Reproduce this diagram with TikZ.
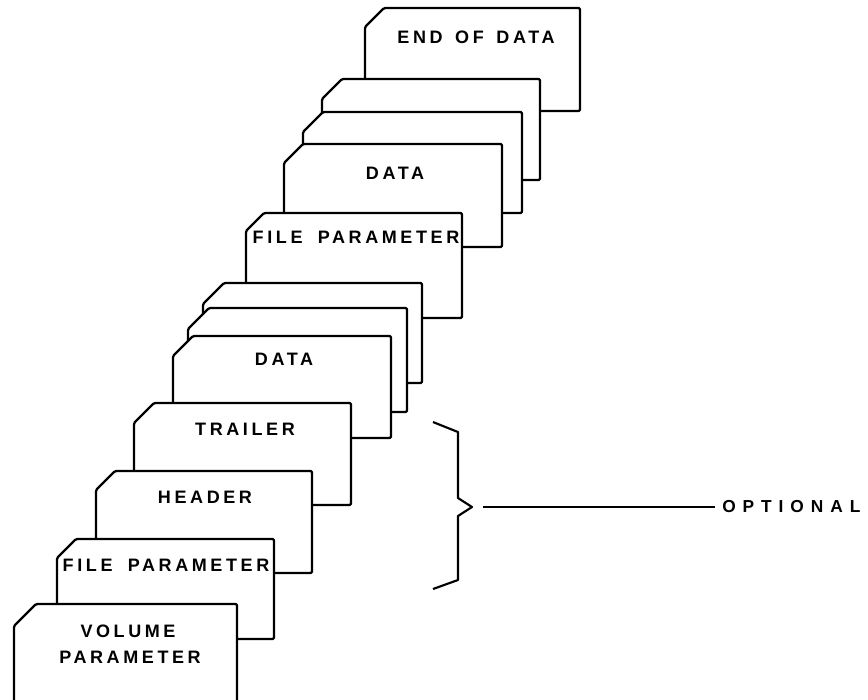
\documentclass[tikz,border=0pt]{standalone}
\usepackage{fontspec}
\setmainfont{Liberation Sans}
\newfontfamily\cardfont[LetterSpace=20]{Liberation Sans Bold}
\newfontfamily\notefont[LetterSpace=40]{Liberation Sans Bold}
\begin{document}
\begin{tikzpicture}[x=0.75pt,y=-0.75pt,
  cardedge/.style={draw=black,fill=white,line width=1.7pt,line join=round,rounded corners=1pt},
  cardtext/.style={font=\cardfont\fontsize{13.5}{16}\selectfont,align=center,inner sep=0pt},
  notetext/.style={font=\notefont\fontsize{13}{15.5}\selectfont,inner sep=0pt,anchor=west},
  lead/.style={draw=black,line width=1.6pt,line join=round}]
\useasboundingbox (0,0) rectangle (868,700);
\clip (0,0) rectangle (868,700);
% \pcard{left}{top}{right}{bottom}{cut}
\newcommand\pcard[5]{\path[cardedge] (#1,#2+#5) -- (#1+#5,#2) -- (#3,#2) -- (#3,#4) -- (#1,#4) -- cycle;}
% cards, back to front
\pcard{365}{8}{580}{111}{19}
\pcard{322}{79}{540}{180}{20}
\pcard{303}{112}{522}{213}{20}
\pcard{284}{144}{502}{247}{19}
\pcard{246}{213}{462}{318}{18}
\pcard{203}{283}{422}{383}{21}
\pcard{188}{308}{407}{412}{21}
\pcard{173}{336}{391}{438}{20}
\pcard{134}{403}{351}{505}{20}
\pcard{96}{471}{312}{573}{19}
\pcard{57}{539}{274}{639}{19}
\pcard{14}{604}{237}{720}{22}
% card labels
\node[cardtext] (eod) at (476,37) {END\hspace{0.7em}OF\hspace{0.7em}DATA};
\node[cardtext] (data2) at (395,173) {DATA};
\node[cardtext] (fp2) at (356,237) {FILE\hspace{0.85em}PARAMETER};
\node[cardtext] (data1) at (284,359) {DATA};
\node[cardtext] (trl) at (245,429) {TRAILER};
\node[cardtext] (hdr) at (205,497) {HEADER};
\node[cardtext] (fp1) at (166,565) {FILE\hspace{0.85em}PARAMETER};
\node[cardtext] (vol) at (128,631) {VOLUME};
\node[cardtext] (par) at (130,657) {PARAMETER};
% brace over the optional cards
\coordinate (btop) at (433,422);
\coordinate (bbot) at (433,589);
\coordinate (btip) at (472,507);
\draw[lead] (btop) -- (458,432) -- (458,498) -- (btip) -- (458,516) -- (458,580) -- (bbot);
\coordinate (lstart) at (483,507);
\node[notetext] (opt) at (722,507) {OPTIONAL};
\draw[lead] (lstart) -- ([xshift=-5pt]opt.west);
\end{tikzpicture}
\end{document}
